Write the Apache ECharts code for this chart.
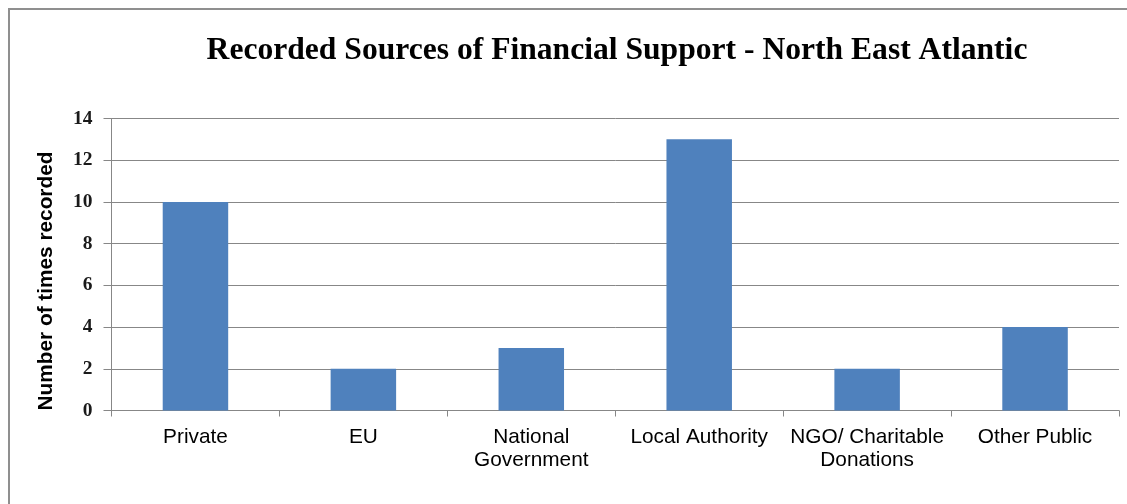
<!DOCTYPE html>
<html>
<head>
<meta charset="utf-8">
<script src="https://cdn.jsdelivr.net/npm/echarts@6/dist/echarts.min.js"></script>
<style>
  html, body { margin: 0; padding: 0; background: #ffffff; }
  #chart { width: 1127px; height: 504px; }
</style>
</head>
<body>
<div id="chart"></div>
<script>
// Funding sources and how often each was recorded
const categories = [
  'Private',
  'EU',
  'National\nGovernment',
  'Local Authority',
  'NGO/ Charitable\nDonations',
  'Other Public'
];
const timesRecorded = [10, 2, 3, 13, 2, 4];
const yTicks = { min: 0, max: 14, interval: 2 };
const yAxisTitle = 'Number of times recorded';

const chart = echarts.init(document.getElementById('chart'), null, { renderer: 'canvas' });

chart.setOption({
  backgroundColor: '#ffffff',
  animation: false,
  title: {
    text: 'Recorded Sources of Financial Support - North East Atlantic',
    left: 612,
    top: 30,
    textAlign: 'center',
    textStyle: {
      fontFamily: '"Liberation Serif", "Times New Roman", serif',
      fontWeight: 'bold',
      fontSize: 31.6,
      color: '#000000'
    }
  },
  graphic: [{
    // chart frame
    type: 'rect',
    silent: true,
    z: -1,
    shape: { x: 9, y: 9, width: 1300, height: 700 },
    style: { fill: 'none', stroke: '#8f8f8f', lineWidth: 2 }
  }, {
    // vertical axis title
    type: 'text',
    silent: true,
    x: 46,
    y: 281,
    rotation: Math.PI / 2,
    style: {
      text: yAxisTitle,
      fontFamily: '"Liberation Sans", Arial, sans-serif',
      fontWeight: 'bold',
      fontSize: 20.8,
      fill: '#000000',
      align: 'center',
      verticalAlign: 'middle'
    }
  }],
  grid: { left: 111.5, right: 8, top: 118.5, bottom: 93.5, containLabel: false },
  xAxis: {
    type: 'category',
    data: categories,
    axisLine: { show: true, lineStyle: { color: '#878787', width: 1 } },
    axisTick: { show: true, alignWithLabel: false, length: 6, lineStyle: { color: '#878787' } },
    axisLabel: {
      interval: 0,
      margin: 15,
      fontFamily: '"Liberation Sans", Arial, sans-serif',
      fontSize: 20.8,
      lineHeight: 23,
      color: '#000000'
    }
  },
  yAxis: {
    type: 'value',
    min: yTicks.min,
    max: yTicks.max,
    interval: yTicks.interval,
    axisLine: { show: true, lineStyle: { color: '#878787', width: 1 } },
    axisTick: { show: true, length: 8, lineStyle: { color: '#878787' } },
    axisLabel: {
      margin: 19,
      fontFamily: '"Liberation Serif", "Times New Roman", serif',
      fontWeight: 'bold',
      fontSize: 19.5,
      color: '#1a1a1a'
    },
    splitLine: { show: true, lineStyle: { color: '#878787', width: 1 } }
  },
  series: [{
    type: 'bar',
    data: timesRecorded,
    barWidth: '39%',
    itemStyle: { color: '#4f81bd' }
  }]
});
</script>
</body>
</html>
